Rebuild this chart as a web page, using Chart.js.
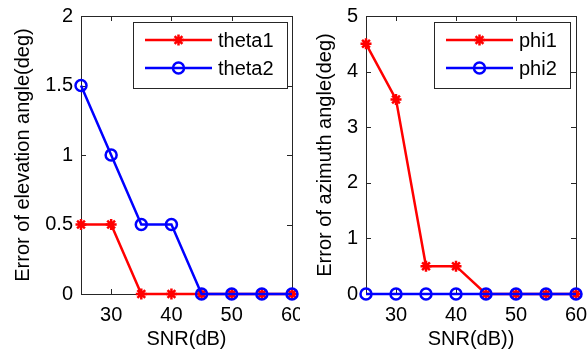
<!DOCTYPE html>
<html>
<head>
<meta charset="utf-8">
<script src="https://cdn.jsdelivr.net/npm/chart.js@4/dist/chart.umd.min.js"></script>
<style>
  html, body { margin: 0; padding: 0; background: #fff; }
  body { width: 587px; height: 354px; position: relative; overflow: hidden; }
  .pane { position: absolute; top: 0; height: 354px; }
  #left { left: 0; width: 300px; }
  #right { left: 300px; width: 287px; }
  canvas { display: block; }
</style>
</head>
<body>
<div class="pane" id="left"><canvas id="cLeft" width="300" height="354"></canvas></div>
<div class="pane" id="right"><canvas id="cRight" width="287" height="354"></canvas></div>
<script>
// SNR sweep (dB) and angle estimation errors (deg)
const snr    = [25, 30, 35, 40, 45, 50, 55, 60];
const theta1 = [0.5, 0.5, 0, 0, 0, 0, 0, 0];
const theta2 = [1.5, 1, 0.5, 0.5, 0, 0, 0, 0];
const phi1   = [4.5, 3.5, 0.5, 0.5, 0, 0, 0, 0];
const phi2   = [0, 0, 0, 0, 0, 0, 0, 0];

// Tick values
const xTicks    = [30, 40, 50, 60];
const elevTicks = [0, 0.5, 1, 1.5, 2];
const azimTicks = [0, 1, 2, 3, 4, 5];

const FONT = '"Liberation Sans", Arial, Helvetica, sans-serif';
const FS = 20;
const RED = '#ff0000';
const BLUE = '#0000ff';
const AXIS = '#262626';
const LW = 2.5;

function series(label, values, color, style, radius, order) {
  return {
    label,
    data: snr.map((x, i) => ({ x, y: values[i] })),
    borderColor: color,
    borderWidth: LW,
    pointStyle: style,
    pointRadius: radius,
    pointHoverRadius: radius,
    pointBorderWidth: LW,
    pointBorderColor: color,
    pointBackgroundColor: 'rgba(0,0,0,0)',
    tension: 0,
    fill: false,
    clip: false,
    order
  };
}

// Box around the plot area with inward tick marks on all four sides
const framePlugin = {
  id: 'frame',
  beforeDatasetsDraw(chart) {
    const { ctx, chartArea: a, scales } = chart;
    const L = 5;
    ctx.save();
    ctx.strokeStyle = AXIS;
    ctx.lineWidth = 1;
    ctx.beginPath();
    scales.x.ticks.forEach(t => {
      const px = Math.round(scales.x.getPixelForValue(t.value)) + 0.5;
      ctx.moveTo(px, a.bottom); ctx.lineTo(px, a.bottom - L);
      ctx.moveTo(px, a.top); ctx.lineTo(px, a.top + L);
    });
    scales.y.ticks.forEach(t => {
      const py = Math.round(scales.y.getPixelForValue(t.value)) + 0.5;
      ctx.moveTo(a.left, py); ctx.lineTo(a.left + L, py);
      ctx.moveTo(a.right, py); ctx.lineTo(a.right - L, py);
    });
    ctx.stroke();
    ctx.strokeRect(Math.round(a.left) + 0.5, Math.round(a.top) + 0.5,
                   Math.round(a.right - a.left), Math.round(a.bottom - a.top));
    ctx.restore();
  }
};

function drawMarker(ctx, ds, x, y) {
  ctx.save();
  ctx.strokeStyle = ds.borderColor;
  ctx.fillStyle = 'rgba(0,0,0,0)';
  ctx.lineWidth = ds.pointBorderWidth;
  if (Chart.helpers && Chart.helpers.drawPoint) {
    Chart.helpers.drawPoint(ctx, { pointStyle: ds.pointStyle, radius: ds.pointRadius,
      borderWidth: ds.pointBorderWidth, rotation: 0 }, x, y);
  } else {
    ctx.beginPath();
    ctx.arc(x, y, ds.pointRadius, 0, Math.PI * 2);
    ctx.stroke();
  }
  ctx.restore();
}

// Boxed legend in the upper right of the plot area: line sample + marker + name
const legendPlugin = {
  id: 'boxLegend',
  afterDatasetsDraw(chart, args, opts) {
    const { ctx, chartArea: a } = chart;
    const sets = chart.data.datasets;
    ctx.save();
    ctx.font = FS + 'px ' + FONT;
    const textW = Math.max(...sets.map(d => ctx.measureText(d.label).width));
    const padL = 12, lineLen = 67, gap = 6, padR = 13, rowH = 28;
    const w = Math.round(padL + lineLen + gap + textW + padR);
    const h = 66;
    const x0 = Math.round(a.right - opts.right - w);
    const y0 = Math.round(a.top + opts.top);
    ctx.fillStyle = '#fff';
    ctx.fillRect(x0, y0, w, h);
    ctx.strokeStyle = AXIS;
    ctx.lineWidth = 1;
    ctx.strokeRect(x0 + 0.5, y0 + 0.5, w, h);
    sets.forEach((ds, i) => {
      const cy = y0 + 18 + i * rowH;
      const lx = x0 + padL;
      ctx.strokeStyle = ds.borderColor;
      ctx.lineWidth = LW;
      ctx.beginPath();
      ctx.moveTo(lx, cy); ctx.lineTo(lx + lineLen, cy);
      ctx.stroke();
      drawMarker(ctx, ds, lx + lineLen / 2, cy);
      ctx.fillStyle = '#000';
      ctx.textBaseline = 'middle';
      ctx.textAlign = 'left';
      ctx.fillText(ds.label, lx + lineLen + gap, cy + 1);
    });
    ctx.restore();
  }
};

function makeChart(canvasId, sets, yTicks, yMax, yTitle, xTitle, yWidth, yTitlePad, padRight, legendRight) {
  return new Chart(document.getElementById(canvasId), {
    type: 'line',
    data: { datasets: sets },
    options: {
      responsive: false,
      animation: false,
      devicePixelRatio: 1,
      layout: { padding: { left: 0, right: padRight, top: 16, bottom: 0 } },
      plugins: {
        legend: { display: false },
        tooltip: { enabled: false },
        boxLegend: { right: legendRight, top: 6 }
      },
      scales: {
        x: {
          type: 'linear',
          min: 25, max: 60,
          grid: { display: false, drawTicks: false },
          border: { display: false },
          afterBuildTicks: s => { s.ticks = xTicks.map(v => ({ value: v })); },
          afterFit: s => { s.height = 60; s.paddingLeft = 0; s.paddingRight = 0; },
          ticks: {
            autoSkip: false, maxRotation: 0, padding: 9, color: '#000',
            font: { family: FONT, size: FS },
            callback: v => String(v)
          },
          title: {
            display: true, text: xTitle, color: '#000',
            font: { family: FONT, size: FS },
            padding: { top: 0, bottom: 3 }
          }
        },
        y: {
          type: 'linear',
          min: 0, max: yMax,
          grid: { display: false, drawTicks: false },
          border: { display: false },
          afterBuildTicks: s => { s.ticks = yTicks.map(v => ({ value: v })); },
          afterFit: s => { s.width = yWidth; s.paddingTop = 0; s.paddingBottom = 0; },
          ticks: {
            autoSkip: false, padding: 8, color: '#000',
            font: { family: FONT, size: FS },
            callback: v => String(v)
          },
          title: {
            display: true, text: yTitle, color: '#000',
            font: { family: FONT, size: FS },
            padding: { top: yTitlePad, bottom: 0 }
          }
        }
      }
    },
    plugins: [framePlugin, legendPlugin]
  });
}

makeChart('cLeft',
  [series('theta1', theta1, RED, 'star', 5.5, 1), series('theta2', theta2, BLUE, 'circle', 5.5, 0)],
  elevTicks, 2, 'Error of elevation angle(deg)', 'SNR(dB)', 81, 11, 7, 5);

makeChart('cRight',
  [series('phi1', phi1, RED, 'star', 5.5, 1), series('phi2', phi2, BLUE, 'circle', 5.5, 0)],
  azimTicks, 5, 'Error of azimuth angle(deg)', 'SNR(dB))', 66, 13, 11, 6);
</script>
</body>
</html>
